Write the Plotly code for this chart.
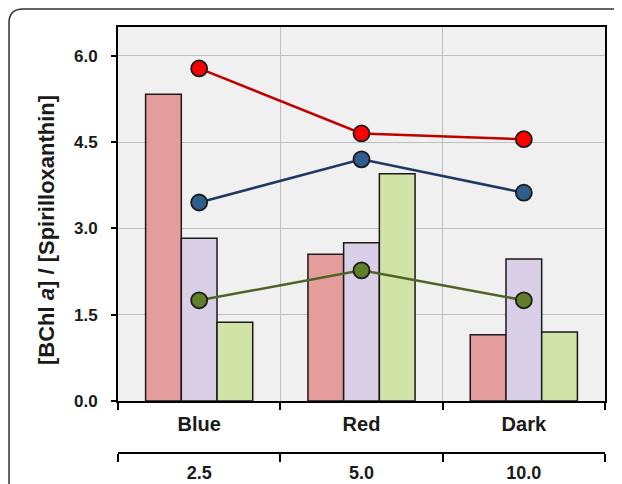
import plotly.graph_objects as go

categories = ["Blue", "Red", "Dark"]
secondary_labels = ["2.5", "5.0", "10.0"]
secondary_positions = [0.5, 1.5, 2.5]

bar_pink = [5.33, 2.55, 1.15]
bar_purple = [2.83, 2.75, 2.47]
bar_green = [1.37, 3.95, 1.20]

line_red = [5.78, 4.65, 4.55]
line_blue = [3.45, 4.20, 3.62]
line_green = [1.75, 2.27, 1.75]

y_ticks = [0.0, 1.5, 3.0, 4.5, 6.0]

FONT = "Liberation Sans, Arial, sans-serif"
TXT = "#1a1a1a"

fig = go.Figure()

for vals, col in [(bar_pink, "#E59C9C"), (bar_purple, "#D9CFE7"), (bar_green, "#D2E3A7")]:
    fig.add_trace(go.Bar(
        x=categories, y=vals,
        marker=dict(color=col, line=dict(color="#1a1a1a", width=1.5)),
        showlegend=False,
    ))

for vals, lc, mc in [(line_red, "#C00000", "#FF0000"),
                     (line_blue, "#1F3864", "#2F5D8E"),
                     (line_green, "#4F6228", "#5F7F2A")]:
    fig.add_trace(go.Scatter(
        x=categories, y=vals, mode="lines+markers",
        line=dict(color=lc, width=2.5),
        marker=dict(size=16, color=mc, line=dict(color="#1a1a1a", width=1.8)),
        showlegend=False,
    ))

# invisible trace to register the secondary x axis
fig.add_trace(go.Scatter(
    x=secondary_positions, y=[None] * len(secondary_positions),
    xaxis="x2", yaxis="y", mode="markers", showlegend=False, hoverinfo="skip",
))

# the page body has an 8px margin, so the figure is 8px smaller than the window
W, H = 614, 476
ml, mr, mt, mb = 110, 17, 19, 31
plot_w = W - ml - mr
plot_h = H - mt - mb
ybot_px = 393
y_dom0 = (H - mb - ybot_px) / plot_h

fig.update_layout(
    width=W, height=H,
    margin=dict(l=ml, r=mr, t=mt, b=mb, pad=0, autoexpand=False),
    paper_bgcolor="white",
    plot_bgcolor="#F0F0F0",
    barmode="group",
    bargap=0.34,
    bargroupgap=0.0,
    font=dict(family=FONT, size=16, color=TXT),
    xaxis=dict(
        type="category",
        tickson="boundaries",
        ticks="outside", ticklen=7, tickwidth=2, tickcolor="black",
        showline=True, linecolor="black", linewidth=2, mirror=True,
        showgrid=True, gridcolor="#BFBFBF", gridwidth=1,
        tickfont=dict(family=FONT, size=20, color=TXT, weight="bold"),
        ticklabelstandoff=4,
        anchor="y", automargin=False,
    ),
    xaxis2=dict(
        overlaying="x", anchor="free", position=0, side="bottom",
        range=[0, 3], showgrid=False, zeroline=False,
        showline=True, linecolor="black", linewidth=2,
        tickvals=secondary_positions, ticktext=secondary_labels,
        ticks="outside", ticklen=0,
        minor=dict(ticks="outside", tick0=0, dtick=1, ticklen=8, tickwidth=2,
                   tickcolor="black", showgrid=False),
        tickfont=dict(family=FONT, size=18, color=TXT, weight="bold"),
        ticklabelstandoff=3, automargin=False,
    ),
    yaxis=dict(
        domain=[y_dom0, 1],
        range=[0, 6.5],
        tickvals=y_ticks, tickformat=".1f",
        ticks="outside", ticklen=5, tickwidth=2, tickcolor="black",
        showline=True, linecolor="black", linewidth=2, mirror=True,
        showgrid=True, gridcolor="#BFBFBF", gridwidth=1,
        zeroline=False,
        tickfont=dict(family=FONT, size=17, color=TXT, weight="bold"),
        ticklabelstandoff=10, automargin=False,
    ),
)


def px_x(px):
    return (px - ml) / plot_w


def px_y(py):
    return (H - mb - py) / plot_h


fig.add_annotation(
    xref="paper", yref="paper",
    x=px_x(38), y=px_y(222),
    text="[BChl <i>a</i>] / [Spirilloxanthin]",
    textangle=-90, showarrow=False,
    font=dict(family=FONT, size=22, color=TXT, weight="bold"),
    xanchor="center", yanchor="middle",
)

# outer rounded frame
r = 14
path = (f"M {px_x(1)},{px_y(520)} L {px_x(1)},{px_y(1 + r)} "
        f"Q {px_x(1)},{px_y(1)} {px_x(1 + r)},{px_y(1)} L {px_x(660)},{px_y(1)}")
fig.add_shape(type="path", xref="paper", yref="paper", path=path,
              line=dict(color="#333333", width=1.5), layer="below")

fig.write_html("out.html")
